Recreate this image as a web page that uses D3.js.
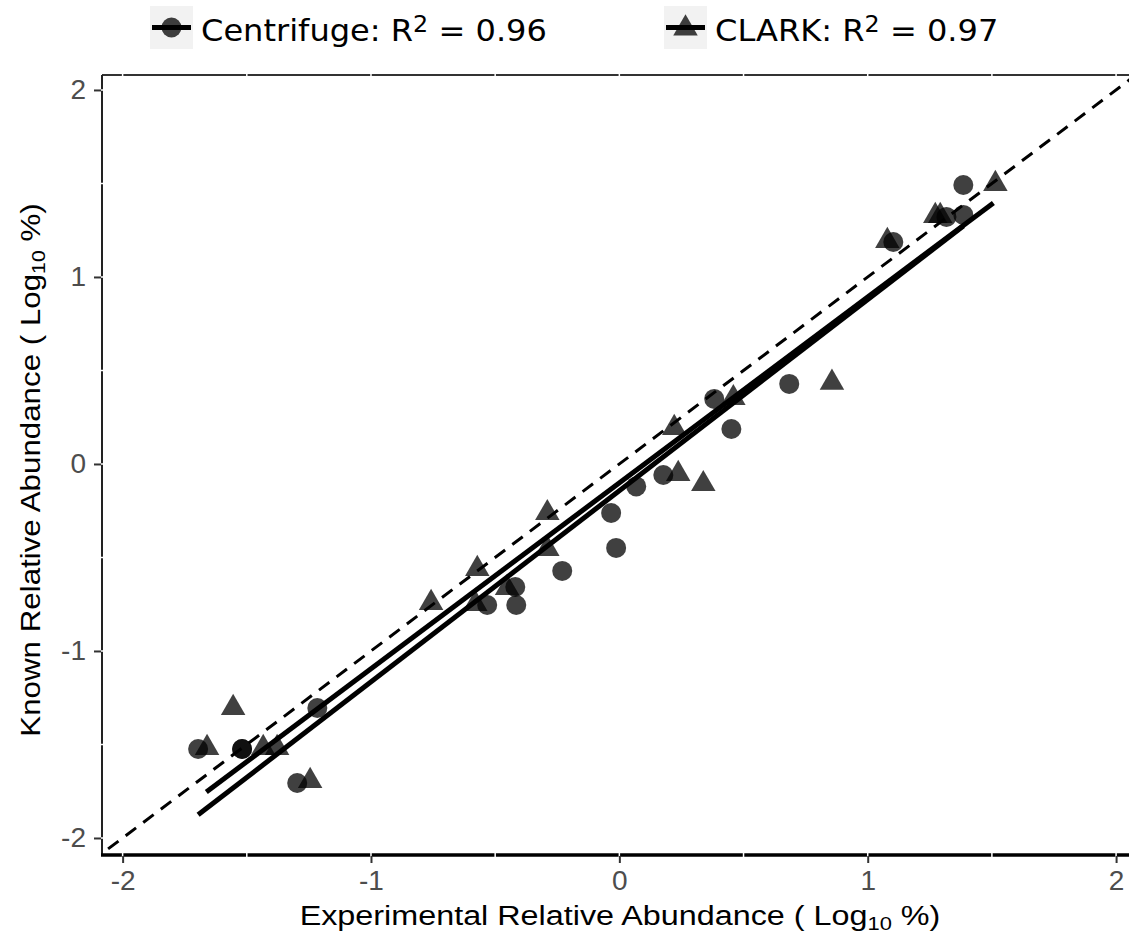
<!DOCTYPE html>
<html>
<head>
<meta charset="utf-8">
<script src="https://cdnjs.cloudflare.com/ajax/libs/d3/7.8.5/d3.min.js"></script>
<style>
  html, body { margin: 0; padding: 0; background: #fff; }
  svg { display: block; }
</style>
</head>
<body>
<div id="chart"></div>
<script>
// Centrifuge points (circles)
const centrifugeX = [-1.696, -1.519, -1.519, -1.216, -1.297, -0.532, -0.419, -0.415, -0.230, -0.033,
                     -0.013, 0.068, 0.177, 0.382, 0.451, 0.684, 1.103, 1.317, 1.385, 1.385];
const centrifugeY = [-1.524, -1.524, -1.524, -1.305, -1.706, -0.754, -0.658, -0.754, -0.572, -0.262,
                     -0.449, -0.120, -0.059, 0.348, 0.187, 0.428, 1.187, 1.321, 1.332, 1.492];
// CLARK points (triangles)
const clarkX = [-1.660, -1.555, -1.434, -1.378, -1.245, -0.758, -0.580, -0.572, -0.452, -0.290,
                -0.290, 0.221, 0.237, 0.338, 0.459, 0.856, 1.079, 1.272, 1.292, 1.514];
const clarkY = [-1.513, -1.299, -1.513, -1.513, -1.690, -0.738, -0.743, -0.556, -0.658, -0.257,
                -0.449, 0.198, -0.048, -0.102, 0.358, 0.440, 1.198, 1.332, 1.332, 1.503];

// fitted lines
const fitNames = ['Centrifuge', 'CLARK'];
const fitIntercepts = [-0.143, -0.101];
const fitSlopes = [1.022, 0.994];
const fitXMin = [-1.696, -1.663];
const fitXMax = [1.385, 1.506];

const legendLabels = ['Centrifuge: R', 'CLARK: R'];
const legendValues = ['0.96', '0.97'];
const xTicks = [-2, -1, 0, 1, 2];
const yTicks = [-2, -1, 0, 1, 2];
const gridBreaks = [-2, -1.5, -1, -0.5, 0, 0.5, 1, 1.5, 2];

const W = 1129, H = 938;
const L = 102, R = 1129, T = 75, B = 855;

const svg = d3.select('#chart').append('svg').attr('width', W).attr('height', H);

const x = d3.scaleLinear().domain([-2.083, 2.052]).range([L, R]);
const y = d3.scaleLinear().domain([-2.091, 2.080]).range([B, T]);

// panel border
svg.append('line').attr('x1', L).attr('x2', R).attr('y1', T).attr('y2', T)
  .attr('stroke', '#333').attr('stroke-width', 2);
svg.append('line').attr('x1', L).attr('x2', L).attr('y1', T).attr('y2', B)
  .attr('stroke', '#222').attr('stroke-width', 2);
svg.append('line').attr('x1', L - 1).attr('x2', R).attr('y1', B).attr('y2', B)
  .attr('stroke', '#000').attr('stroke-width', 3.5);

// white grid lines cutting through the border
const gridG = svg.append('g');
gridG.selectAll('line.gx').data(gridBreaks).join('line')
  .attr('x1', d => x(d)).attr('x2', d => x(d)).attr('y1', T - 2).attr('y2', B + 2)
  .attr('stroke', '#fff').attr('stroke-width', 1.5);
gridG.selectAll('line.gy').data(gridBreaks).join('line')
  .attr('y1', d => y(d)).attr('y2', d => y(d)).attr('x1', L - 2).attr('x2', R)
  .attr('stroke', '#fff').attr('stroke-width', 1.5);

// axes
const xAxis = svg.append('g').attr('transform', `translate(0,${B + 1})`)
  .call(d3.axisBottom(x).tickValues(xTicks).tickSize(7).tickPadding(7).tickFormat(d => String(d)));
const yAxis = svg.append('g').attr('transform', `translate(${L - 1},0)`)
  .call(d3.axisLeft(y).tickValues(yTicks).tickSize(7).tickPadding(8).tickFormat(d => String(d)));
[xAxis, yAxis].forEach(a => {
  a.select('.domain').remove();
  a.selectAll('.tick line').attr('stroke', '#333').attr('stroke-width', 2);
  a.selectAll('.tick text').attr('fill', '#4d4d4d')
    .style('font-family', '"Liberation Sans", Arial, sans-serif').style('font-size', '28px');
});
xAxis.selectAll('.tick text').attr('dy', '0.71em');

// identity line
const clipId = 'panel-clip';
svg.append('clipPath').attr('id', clipId).append('rect')
  .attr('x', L).attr('y', T).attr('width', R - L).attr('height', B - T);
const plotG = svg.append('g').attr('clip-path', `url(#${clipId})`);

plotG.append('line')
  .attr('x1', x(-2.2)).attr('y1', y(-2.2)).attr('x2', x(2.2)).attr('y2', y(2.2))
  .attr('stroke', '#000').attr('stroke-width', 3).attr('stroke-dasharray', '13,9');

// points
const tri = d3.symbol().type(d3.symbolTriangle).size(260);
plotG.selectAll('path.clark').data(clarkX.map((v, i) => [v, clarkY[i]])).join('path')
  .attr('class', 'clark')
  .attr('d', tri)
  .attr('transform', d => `translate(${x(d[0])},${y(d[1]) + 1})`)
  .attr('fill', '#000').attr('fill-opacity', 0.75);
plotG.selectAll('circle.cfg').data(centrifugeX.map((v, i) => [v, centrifugeY[i]])).join('circle')
  .attr('class', 'cfg')
  .attr('cx', d => x(d[0])).attr('cy', d => y(d[1])).attr('r', 10)
  .attr('fill', '#000').attr('fill-opacity', 0.75);

// fitted lines
fitNames.forEach((n, i) => {
  plotG.append('line')
    .attr('x1', x(fitXMin[i])).attr('y1', y(fitIntercepts[i] + fitSlopes[i] * fitXMin[i]))
    .attr('x2', x(fitXMax[i])).attr('y2', y(fitIntercepts[i] + fitSlopes[i] * fitXMax[i]))
    .attr('stroke', '#000').attr('stroke-width', 5);
});

// axis titles (slightly widened, like the reference)
const xt = svg.append('g').attr('transform', 'translate(620,925) scale(1.155,1)')
  .append('text').attr('text-anchor', 'middle')
  .style('font-family', '"Liberation Sans", Arial, sans-serif').style('font-size', '28px').attr('fill', '#000');
xt.append('tspan').text('Experimental Relative Abundance ( Log');
xt.append('tspan').attr('baseline-shift', '-25%').style('font-size', '19px').text('10');
xt.append('tspan').text(' %)');

const yt = svg.append('g').attr('transform', 'translate(40,470) rotate(-90) scale(1.118,1)')
  .append('text').attr('text-anchor', 'middle')
  .style('font-family', '"Liberation Sans", Arial, sans-serif').style('font-size', '28px').attr('fill', '#000');
yt.append('tspan').text('Known Relative Abundance ( Log');
yt.append('tspan').attr('baseline-shift', '-25%').style('font-size', '19px').text('10');
yt.append('tspan').text(' %)');

// legend
const keyX = [150, 664];
const legend = svg.append('g');
legendLabels.forEach((lab, i) => {
  const g = legend.append('g').attr('transform', `translate(${keyX[i]},6)`);
  g.append('rect').attr('width', 43).attr('height', 43).attr('fill', '#f2f2f2');
  g.append('line').attr('x1', 2).attr('x2', 41).attr('y1', 21.5).attr('y2', 21.5)
    .attr('stroke', '#000').attr('stroke-width', 5);
  if (i === 0) {
    g.append('circle').attr('cx', 21.5).attr('cy', 21.5).attr('r', 10)
      .attr('fill', '#000').attr('fill-opacity', 0.75);
  } else {
    g.append('path').attr('d', tri).attr('transform', 'translate(21.5,22.5)')
      .attr('fill', '#000').attr('fill-opacity', 0.75);
  }
  const t = g.append('g').attr('transform', 'translate(51,35) scale(1.035,1)')
    .append('text')
    .style('font-family', '"DejaVu Sans", sans-serif').style('font-size', '31px').attr('fill', '#000');
  t.append('tspan').text(lab);
  t.append('tspan').attr('baseline-shift', '40%').style('font-size', '23px').text('2');
  t.append('tspan').text(' = ' + legendValues[i]);
});
</script>
</body>
</html>
